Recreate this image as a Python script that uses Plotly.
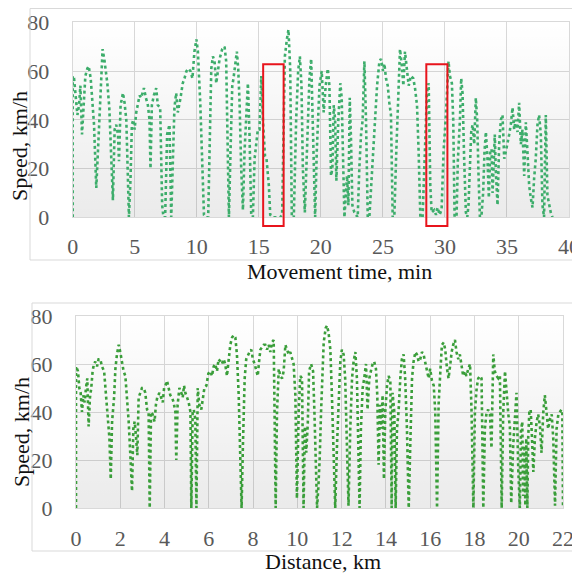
import plotly.graph_objects as go

# ---------------- data: top chart (speed vs movement time) ----------------
time_min = [0.0, 0.0, 0.11, 0.21, 0.38, 0.51, 0.62, 0.75, 0.91, 1.02, 1.18, 1.29, 1.45, 1.55, 1.72, 1.90,
            2.09, 2.25, 2.41, 2.57, 2.79, 2.95, 3.11, 3.24, 3.38, 3.51, 3.65, 3.73, 3.86, 4.05, 4.18, 4.32,
            4.45, 4.53, 4.66, 4.77, 4.88, 4.99, 5.12, 5.25, 5.39, 5.52, 5.74, 5.90, 6.06, 6.19, 6.27, 6.38,
            6.54, 6.73, 6.86, 7.05, 7.21, 7.32, 7.45, 7.61, 7.80, 7.94, 8.10, 8.20, 8.34, 8.47, 8.69, 8.87,
            9.01, 9.17, 9.33, 9.49, 9.65, 9.81, 9.97,
            10.09, 10.28, 10.44, 10.58, 10.76, 10.92, 11.03, 11.17, 11.30, 11.43, 11.57, 11.70, 11.84,
            12.05, 12.24, 12.37, 12.48, 12.59, 12.72, 12.86, 12.96, 13.13, 13.23, 13.34, 13.45, 13.58,
            13.72, 13.85, 13.98, 14.12, 14.25, 14.39, 14.52, 14.66, 14.79, 14.92, 15.06, 15.20, 15.33,
            15.50, 15.62, 15.81, 15.92, 16.13, 16.40, 16.72, 16.88, 16.99, 17.10, 17.26, 17.39, 17.53,
            17.66, 17.82, 18.01, 18.17, 18.31, 18.44, 18.55, 18.71, 18.87, 19.08, 19.22, 19.35, 19.54,
            19.67, 19.89, 20.07, 20.23, 20.39, 20.56, 20.69, 20.82, 20.93, 21.04, 21.15, 21.25, 21.41,
            21.57, 21.68, 21.79, 21.90, 22.00, 22.11, 22.22, 22.33, 22.43, 22.54, 22.70, 22.86, 22.97,
            23.10, 23.24, 23.37, 23.51, 23.64, 23.78, 23.91, 24.10, 24.26, 24.37, 24.53, 24.72, 24.85,
            25.01, 25.12, 25.25, 25.39, 25.52, 25.65, 25.79, 25.92, 26.08, 26.24, 26.38, 26.51, 26.65,
            26.78, 26.94, 27.08, 27.26, 27.45, 27.59, 27.75, 27.88, 28.02, 28.20, 28.39, 28.55, 28.69,
            28.82, 28.93, 29.14, 29.28, 29.41, 29.57, 29.73, 29.89, 30.08, 30.29, 30.40, 30.56, 30.67,
            30.78, 30.94, 31.04, 31.21, 31.31, 31.42, 31.55, 31.69, 31.80, 31.90, 32.01, 32.12, 32.23,
            32.36, 32.49, 32.60, 32.71, 32.82, 32.95, 33.08, 33.19, 33.30, 33.43, 33.54, 33.65, 33.76,
            33.84, 33.92, 34.02, 34.10, 34.24, 34.37, 34.51, 34.64, 34.78, 34.91, 35.04, 35.18, 35.31,
            35.45, 35.58, 35.71, 35.85, 35.98, 36.12, 36.25, 36.39, 36.52, 36.65, 36.79, 36.92, 37.06,
            37.19, 37.32, 37.46, 37.59, 37.73, 37.86, 37.99, 38.13, 38.26, 38.40, 38.53, 38.67]
speed_time = [0, 58, 57, 50, 42, 46, 54, 34, 46, 58, 61, 62, 57, 50, 38, 12,
              34, 54, 69, 64, 55, 45, 27, 7, 36, 38, 34, 23, 46, 51, 47, 40,
              16, 0, 16, 38, 40, 36, 43, 47, 50, 49, 53, 49, 46, 40, 20, 46,
              50, 53, 46, 45, 5, 0, 0, 34, 38, 0, 27, 45, 51, 43, 49, 55,
              57, 60, 61, 60, 57, 68, 73,
              68, 47, 20, 1, 0, 0, 27, 61, 66, 64, 55, 61, 65,
              69, 70, 64, 27, 0, 27, 54, 57, 65, 68, 61, 47, 20,
              3, 27, 40, 55, 34, 1, 0, 24, 30, 36, 36, 58, 40,
              25, 24, 13, 1, 0, 0, 0, 1, 40, 66, 73, 77, 61,
              0, 0, 40, 60, 66, 54, 20, 2, 27, 57, 65, 40, 0,
              27, 54, 60, 43, 54, 61, 54, 17, 20, 46, 40, 15, 40,
              55, 49, 20, 0, 8, 17, 5, 49, 32, 5, 2, 1, 0,
              20, 34, 40, 64, 40, 0, 0, 16, 27, 40, 54, 64, 65,
              60, 63, 57, 54, 47, 42, 0, 0, 27, 54, 69, 63, 54,
              68, 61, 54, 58, 57, 53, 46, 27, 0, 0, 27, 51, 55,
              13, 2, 3, 1, 4, 1, 3, 27, 42, 64, 58, 55, 40,
              0, 1, 23, 40, 57, 51, 24, 2, 0, 5, 20, 35, 38,
              30, 49, 40, 17, 0, 1, 10, 27, 35, 24, 8, 27, 28,
              10, 24, 34, 19, 5, 30, 40, 42, 24, 27, 30, 34, 38,
              45, 36, 40, 35, 47, 30, 36, 17, 39, 27, 13, 8, 4,
              16, 24, 38, 42, 34, 5, 0, 42, 9, 5, 2, 0]

# ---------------- data: bottom chart (speed vs distance) ----------------
distance_km = [0.0, 0.0, 0.09, 0.15, 0.21, 0.27, 0.33, 0.39, 0.45, 0.51, 0.57, 0.63, 0.69, 0.75, 0.81, 0.87,
               0.95, 1.02, 1.10, 1.17, 1.27, 1.33, 1.42, 1.51, 1.57, 1.63, 1.72, 1.78, 1.85, 1.93, 2.00,
               2.08, 2.15, 2.23, 2.30, 2.38, 2.45, 2.53, 2.59, 2.65, 2.71, 2.77, 2.83, 2.91, 2.98, 3.06,
               3.13, 3.21, 3.28, 3.33, 3.39, 3.46, 3.55, 3.61, 3.67, 3.77, 3.86, 3.92, 3.98, 4.04, 4.11,
               4.19, 4.26, 4.34, 4.41, 4.49, 4.53, 4.59, 4.67, 4.76, 4.82, 4.88, 4.94, 5.02, 5.09, 5.17,
               5.21, 5.27, 5.32, 5.39, 5.44, 5.50, 5.57, 5.66, 5.74, 5.80, 5.89, 5.98, 6.07, 6.14, 6.22,
               6.29, 6.37, 6.44, 6.52, 6.59, 6.67, 6.74, 6.82, 6.90, 6.97, 7.05, 7.12, 7.20, 7.27, 7.35,
               7.42, 7.48, 7.54, 7.62, 7.69, 7.77, 7.84, 7.92, 7.99, 8.07, 8.15, 8.21, 8.27, 8.33, 8.40,
               8.48, 8.55, 8.63, 8.70, 8.78, 8.85, 8.93, 8.97, 9.02, 9.08, 9.16, 9.23, 9.31, 9.38, 9.46,
               9.53, 9.61, 9.68, 9.76, 9.83, 9.91, 9.98, 10.06, 10.13, 10.21, 10.28, 10.34, 10.40, 10.47,
               10.53, 10.62, 10.71, 10.77, 10.83, 10.89, 10.95, 11.01, 11.07, 11.13, 11.19, 11.28, 11.34,
               11.41, 11.49, 11.56, 11.64, 11.71, 11.79, 11.86, 11.94, 12.01, 12.09, 12.16, 12.24, 12.31,
               12.39, 12.47, 12.54, 12.62, 12.69, 12.77, 12.81, 12.87, 12.95, 13.02, 13.10, 13.17, 13.25,
               13.32, 13.40, 13.47, 13.55, 13.61, 13.67, 13.73, 13.79, 13.85, 13.91, 13.97, 14.05, 14.12,
               14.20, 14.26, 14.30, 14.38, 14.44, 14.50, 14.57, 14.65, 14.72, 14.80, 14.87, 14.95, 15.03,
               15.10, 15.18, 15.25, 15.33, 15.40, 15.48, 15.55, 15.63, 15.70, 15.78, 15.85, 15.93, 16.00,
               16.08, 16.16, 16.23, 16.31, 16.38, 16.46, 16.53, 16.61, 16.68, 16.76, 16.83, 16.91, 16.97,
               17.04, 17.12, 17.19, 17.27, 17.34, 17.42, 17.49, 17.57, 17.64, 17.72, 17.80, 17.87, 17.95,
               18.02, 18.10, 18.17, 18.25, 18.32, 18.40, 18.47, 18.55, 18.62, 18.70, 18.77, 18.85, 18.92,
               19.00, 19.08, 19.15, 19.23, 19.30, 19.38, 19.45, 19.53, 19.60, 19.66, 19.75, 19.83, 19.90,
               19.98, 20.05, 20.10, 20.16, 20.20, 20.25, 20.30, 20.34, 20.39, 20.43, 20.48, 20.54, 20.60,
               20.66, 20.73, 20.81, 20.88, 20.96, 21.03, 21.11, 21.18, 21.26, 21.33, 21.41, 21.49, 21.56,
               21.64, 21.71, 21.79, 21.86, 21.93, 21.97, 22.0]
speed_dist = [0, 59, 57, 50, 48, 40, 47, 44, 50, 54, 34, 46, 50, 57, 60, 61,
              59, 62, 62, 59, 57, 50, 41, 29, 12, 36, 46, 58, 64, 68, 65,
              61, 57, 55, 47, 36, 23, 7, 33, 36, 30, 22, 46, 48, 50, 50,
              48, 41, 40, 0, 40, 39, 36, 43, 46, 48, 46, 44, 50, 51, 53,
              50, 47, 46, 44, 40, 20, 43, 50, 48, 46, 51, 48, 46, 44, 40,
              0, 40, 41, 37, 0, 50, 43, 41, 47, 50, 51, 56, 57, 55, 59,
              60, 57, 62, 61, 60, 62, 60, 55, 61, 68, 71, 72, 71, 64, 47,
              26, 0, 26, 54, 62, 64, 65, 66, 62, 60, 57, 55, 61, 66, 67,
              68, 68, 66, 68, 65, 69, 70, 40, 0, 40, 58, 55, 54, 57, 68,
              66, 64, 65, 62, 60, 47, 4, 40, 55, 54, 0, 34, 23, 35,
              57, 60, 57, 40, 23, 0, 9, 21, 40, 54, 69, 75, 76,
              73, 66, 47, 26, 0, 26, 47, 61, 66, 64, 54, 29, 1,
              33, 54, 61, 65, 54, 19, 0, 33, 50, 54, 60, 41, 54,
              57, 60, 61, 58, 47, 18, 43, 33, 47, 12, 40, 51, 55,
              53, 0, 48, 40, 0, 33, 40, 54, 62, 64, 54, 33, 0,
              26, 54, 61, 65, 64, 61, 62, 65, 64, 60, 57, 54, 58,
              53, 51, 40, 0, 43, 57, 68, 69, 66, 58, 54, 60, 65,
              68, 70, 65, 62, 64, 58, 55, 57, 55, 58, 60, 40, 0,
              40, 50, 54, 55, 54, 0, 33, 40, 41, 39, 25, 64, 57,
              55, 54, 55, 0, 40, 57, 47, 39, 34, 2, 26, 40, 48,
              16, 0, 32, 36, 5, 26, 1, 29, 0, 30, 40, 41, 29,
              15, 29, 36, 39, 34, 23, 40, 47, 40, 33, 37, 39, 29,
              1, 33, 39, 40, 41, 40, 0]

# axis settings
time_range = [0, 40]
time_ticks = [0, 5, 10, 15, 20, 25, 30, 35, 40]
dist_range = [0, 22]
dist_ticks = [0, 2, 4, 6, 8, 10, 12, 14, 16, 18, 20, 22]
speed_range = [0, 80]
speed_ticks = [0, 20, 40, 60, 80]

# highlighted intervals (red boxes) on the time chart: [start, end] in min, speed bottom/top
box_intervals = [[15.35, 17.0], [28.5, 30.2]]
box_speed = [-3.6, 62.8]

# the page body has an 8px margin; the figure is sized to fill the rest of the window
OFF = 8
W, H = 572, 566
FONT = "Liberation Serif"
TOP_COLOR = "#3dad6b"
BOT_COLOR = "#3a9e3a"
GRID = "#d9d9d9"

fig = go.Figure()

# background gradient panels
for xr, xa, ya in [(time_range, "x", "y"), (dist_range, "x2", "y2")]:
    fig.add_trace(go.Scatter(
        x=[xr[0], xr[1], xr[1], xr[0], xr[0]],
        y=[speed_range[0], speed_range[0], speed_range[1], speed_range[1], speed_range[0]],
        mode="none", fill="toself",
        fillgradient=dict(type="vertical",
                          colorscale=[[0, "rgba(0,0,0,0.08)"], [1, "rgba(0,0,0,0)"]]),
        hoverinfo="skip", showlegend=False, xaxis=xa, yaxis=ya))

fig.add_trace(go.Scatter(x=time_min, y=speed_time, mode="lines",
                         line=dict(color=TOP_COLOR, width=2.6, dash="dot"),
                         showlegend=False, xaxis="x", yaxis="y"))
fig.add_trace(go.Scatter(x=distance_km, y=speed_dist, mode="lines",
                         line=dict(color=BOT_COLOR, width=2.6, dash="dot"),
                         showlegend=False, xaxis="x2", yaxis="y2"))


def px(x):
    """window pixel x -> paper fraction"""
    return (x - OFF) / W


def py(y):
    """window pixel y (from top) -> paper fraction"""
    return 1 - (y - OFF) / H


axis_common = dict(showgrid=True, gridcolor=GRID, gridwidth=1, zeroline=False,
                   showline=True, linecolor=GRID, linewidth=1, mirror=True, ticks="",
                   automargin=False,
                   tickfont=dict(family=FONT, size=22, color="#595959"), fixedrange=True)

fig.update_layout(
    width=W, height=H, margin=dict(l=0, r=0, t=0, b=0, autoexpand=False),
    paper_bgcolor="white", plot_bgcolor="white", showlegend=False,
    xaxis=dict(domain=[px(72.7), px(569)], range=time_range, tickvals=time_ticks,
               anchor="y", ticklabelstandoff=9, **axis_common),
    yaxis=dict(domain=[py(217.3), py(22.3)], range=speed_range, tickvals=speed_ticks,
               anchor="x", ticklabelstandoff=18, **axis_common),
    xaxis2=dict(domain=[px(76), px(563)], range=dist_range, tickvals=dist_ticks,
                anchor="y2", ticklabelstandoff=11, **axis_common),
    yaxis2=dict(domain=[py(508), py(316)], range=speed_range, tickvals=speed_ticks,
                anchor="x2", ticklabelstandoff=18, **axis_common),
)

shapes = []
# chart-area frames
for (l, t, b) in [(30, 8.5, 260), (32, 303, 551)]:
    shapes.append(dict(type="path", xref="paper", yref="paper",
                       path=f"M {px(OFF + W + 2)} {py(t)} L {px(l)} {py(t)} L {px(l)} {py(b)} L {px(OFF + W + 2)} {py(b)}",
                       line=dict(color="#d9d9d9", width=1)))
# red boxes
for x0, x1 in box_intervals:
    shapes.append(dict(type="rect", xref="x", yref="y domain",
                       x0=x0, x1=x1,
                       y0=(box_speed[0] - speed_range[0]) / (speed_range[1] - speed_range[0]),
                       y1=(box_speed[1] - speed_range[0]) / (speed_range[1] - speed_range[0]),
                       line=dict(color="#e8141c", width=2), fillcolor="rgba(0,0,0,0)"))
fig.update_layout(shapes=shapes)

title_font = dict(family=FONT, size=22, color="#111111")
annotations = [
    dict(text="Speed, km/h", x=px(20), y=py(146), xref="paper", yref="paper",
         textangle=-90, showarrow=False, font=title_font, xanchor="center", yanchor="middle"),
    dict(text="Movement time, min", x=px(339), y=py(271), xref="paper", yref="paper",
         showarrow=False, font=title_font, xanchor="center", yanchor="middle"),
    dict(text="Speed, km/h", x=px(21), y=py(432), xref="paper", yref="paper",
         textangle=-90, showarrow=False, font=title_font, xanchor="center", yanchor="middle"),
    dict(text="Distance, km", x=px(323), y=py(561), xref="paper", yref="paper",
         showarrow=False, font=title_font, xanchor="center", yanchor="middle"),
]
fig.update_layout(annotations=annotations)

fig.write_html("out.html")
